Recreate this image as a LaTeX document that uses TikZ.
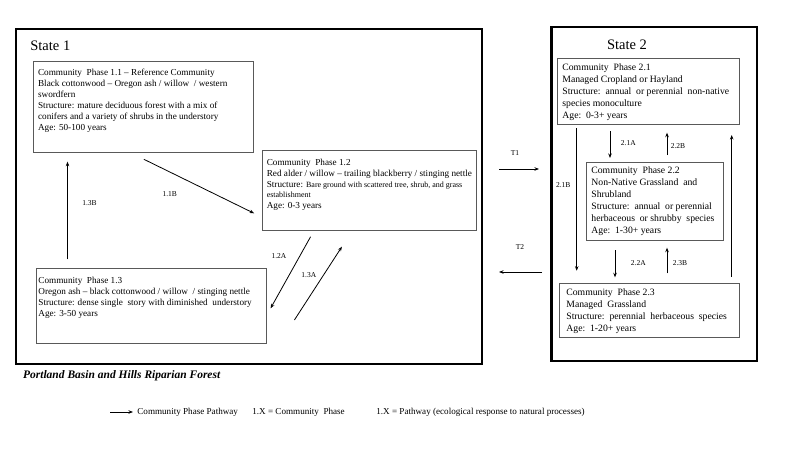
\documentclass[tikz,border=0pt]{standalone}
\usepackage{fontspec}
\setmainfont{Liberation Serif}
\usetikzlibrary{arrows.meta}

\newcommand{\phasetext}[3]{\parbox[c][#2][t]{#1}{\raggedright #3}}

\begin{document}
\begin{tikzpicture}[x=1pt,y=-1pt,thick,>={Stealth[length=4.5pt,width=3.5pt]},
                    state frame/.style={draw,line width=2.4pt},
                    state label/.style={font=\fontsize{14.5}{16}\selectfont},
                    phase/.style={draw=black!65,line width=0.8pt,anchor=north west,
                                  inner xsep=5pt,inner ysep=8pt,font=\fontsize{9.2}{11}\selectfont},
                    phase two/.style={phase,inner ysep=5pt,font=\fontsize{9.7}{12}\selectfont},
                    path label/.style={font=\fontsize{7.5}{9}\selectfont,inner sep=1pt},
                    key text/.style={anchor=west,inner sep=0pt,font=\fontsize{9.1}{11}\selectfont},
                    pathway/.style={->,line width=0.8pt}]

  \useasboundingbox (0,0) rectangle (800,450);

  % states
  \draw[state frame] (16,29) rectangle (482,364);
  \draw[state frame] (551.5,27) rectangle (757,361);
  \node[state label,anchor=west,inner sep=0pt] (s1) at (30,46) {State 1};
  \node[state label] (s2) at (627,45) {State 2};

  % state 1 phases
  \node[phase] (p11) at (32.7,61) {\phasetext{210pt}{75pt}{Community\ \ Phase 1.1 – Reference Community\\
    Black cottonwood – Oregon ash / willow\ \ / western\\ swordfern\\
    Structure: mature deciduous forest with a mix of\\
    conifers and a variety of shrubs in the understory\\ Age: 50-100 years}};
  \node[phase,inner xsep=4pt] (p12) at (262.4,150.3) {\phasetext{206pt}{64pt}{Community\ \ Phase 1.2\\
    Red alder / willow – trailing blackberry / stinging nettle\\
    Structure: {\fontsize{8}{10}\selectfont Bare ground with scattered tree, shrub, and grass}\\[-1pt]
    {\fontsize{8}{10}\selectfont establishment}\\ Age: 0-3 years}};
  \node[phase,inner xsep=2.5pt] (p13) at (35.5,268.3) {\phasetext{225pt}{59pt}{Community\ \ Phase 1.3\\
    Oregon ash – black cottonwood / willow\ \ / stinging nettle\\
    Structure: dense single\ \ story with diminished\ \ understory\\ Age: 3-50 years}};

  % state 2 phases
  \node[phase two] (p21) at (557,58.3) {\phasetext{172pt}{56pt}{Community\ \ Phase 2.1\\
    Managed Cropland or Hayland\\ Structure:\ \ annual\ \ or perennial\ \ non-native\\
    species monoculture\\ Age:\ \ 0-3+ years}};
  \node[phase two] (p22) at (586,161.7) {\phasetext{127pt}{68pt}{Community\ \ Phase 2.2\\
    Non-Native Grassland\ \ and\\ Shrubland\\ Structure:\ \ annual\ \ or perennial\\
    herbaceous\ \ or shrubby\ \ species\\ Age:\ \ 1-30+ years}};
  \node[phase two,inner xsep=7pt] (p23) at (559,283.3) {\phasetext{166pt}{44pt}{Community\ \ Phase 2.3\\
    Managed\ \ Grassland\\ Structure:\ \ perennial\ \ herbaceous\ \ species\\ Age:\ \ 1-20+ years}};

  % pathway ends
  \coordinate (b11s) at (143.9,159.3);  \coordinate (b11e) at (254.1,213.3);
  \coordinate (b13s) at (67.5,259.3);   \coordinate (b13e) at (67.5,161.7);
  \coordinate (a12s) at (310.6,236.7);  \coordinate (a12e) at (270.6,308.3);
  \coordinate (a13s) at (294.4,320);    \coordinate (a13e) at (341.9,246.7);
  \coordinate (t1s) at (499,169);       \coordinate (t1e) at (539,169);
  \coordinate (t2s) at (542,272);       \coordinate (t2e) at (499,272);
  \coordinate (a21s) at (610,131);      \coordinate (a21e) at (610,158);
  \coordinate (b22s) at (667,155);      \coordinate (b22e) at (667,132.7);
  \coordinate (b21s) at (576.7,128.3);  \coordinate (b21e) at (576.7,270.7);
  \coordinate (a22s) at (615,250);      \coordinate (a22e) at (615,277.3);
  \coordinate (b23s) at (667,273.3);    \coordinate (b23e) at (667,247.7);
  \coordinate (b31s) at (731.7,276.7);  \coordinate (b31e) at (731.7,135);

  \path[pathway]
    (b11s) edge (b11e)
    (b13s) edge (b13e)
    (a12s) edge (a12e)
    (a13s) edge (a13e)
    (t1s) edge (t1e)
    (t2s) edge (t2e)
    (a21s) edge (a21e)
    (b22s) edge (b22e)
    (b21s) edge (b21e)
    (a22s) edge (a22e)
    (b23s) edge (b23e)
    (b31s) edge (b31e);

  \node[path label] (l11b) at (169.7,194) {1.1B};
  \node[path label] (l13b) at (89.5,203.3) {1.3B};
  \node[path label] (l12a) at (278.9,256) {1.2A};
  \node[path label] (l13a) at (308.8,275) {1.3A};
  \node[path label] (lt1) at (515,153) {T1};
  \node[path label] (lt2) at (520,247) {T2};
  \node[path label] (l21a) at (628.3,143.3) {2.1A};
  \node[path label] (l22b) at (678,146) {2.2B};
  \node[path label] (l21b) at (563.3,185) {2.1B};
  \node[path label] (l22a) at (638.3,263.3) {2.2A};
  \node[path label] (l23b) at (680,263.3) {2.3B};

  % caption and key
  \node[anchor=west,inner sep=0pt,font=\fontsize{11.5}{13}\selectfont\bfseries\itshape] (title) at (22.7,376)
    {Portland Basin and Hills Riparian Forest};
  \coordinate (keys) at (110,412); \coordinate (keye) at (133,412);
  \path[pathway] (keys) edge (keye);
  \node[key text] (k1) at (137,412) {Community Phase Pathway};
  \node[key text] (k2) at (252,412) {1.X = Community\ \ Phase};
  \node[key text] (k3) at (376,412) {1.X = Pathway (ecological response to natural processes)};
\end{tikzpicture}
\end{document}
